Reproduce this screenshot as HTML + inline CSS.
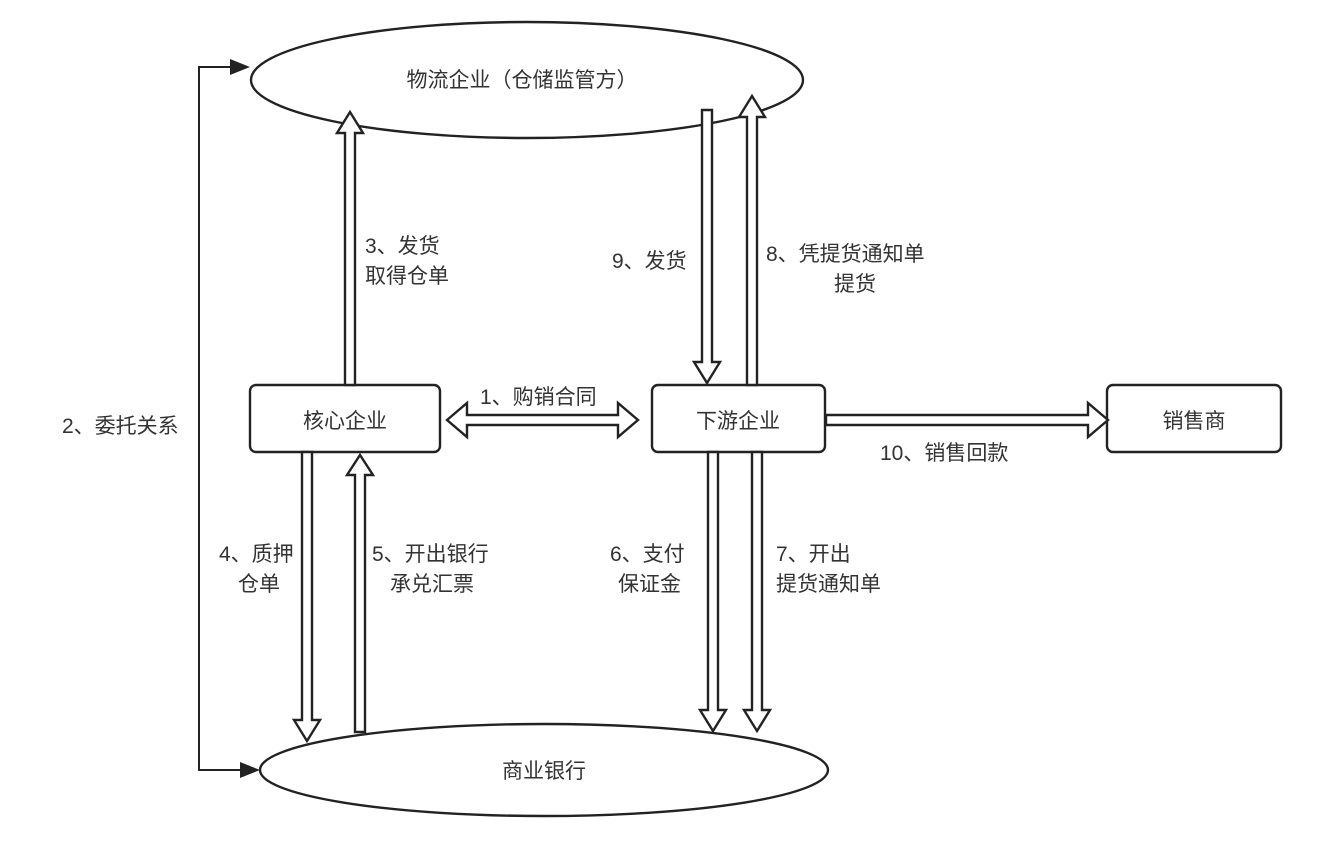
<!DOCTYPE html>
<html><head><meta charset="utf-8"><style>
body{margin:0;background:#fff;}
svg text{font-family:"Liberation Sans","Noto Sans CJK SC",sans-serif;font-size:21px;fill:#333;}
</style></head><body>
<svg width="1336" height="854" viewBox="0 0 1336 854" xmlns="http://www.w3.org/2000/svg">
<g fill="#fff" stroke="#222" stroke-width="2.4">
<ellipse cx="527" cy="80" rx="276" ry="58"/>
<ellipse cx="544" cy="770" rx="284" ry="46"/>
<rect x="250" y="385" width="190" height="67" rx="6"/>
<rect x="652" y="385" width="173" height="67" rx="6"/>
<rect x="1107" y="385" width="174" height="67" rx="6"/>
<polygon points="345,385 345,133 337,133 350,112 363,133 355,133 355,385"/>
<polygon points="702,110 702,362 694,362 707,383 720,362 712,362 712,110"/>
<polygon points="747,385 747,117 739,117 752,96 765,117 757,117 757,385"/>
<polygon points="302,452 302,720 294,720 307,741 320,720 312,720 312,452"/>
<polygon points="355,732 355,475 347,475 360,455 373,475 365,475 365,732"/>
<polygon points="708,452 708,710 700,710 713,731 726,710 718,710 718,452"/>
<polygon points="752,452 752,710 744,710 757,731 770,710 762,710 762,452"/>
<polygon points="447,420 467,403 467,415 618,415 618,403 638,420 618,437 618,425 467,425 467,437"/>
<polygon points="826,415 1088,415 1088,403 1108,420 1088,437 1088,425 826,425"/>
</g>
<polyline points="230,67 199,67 199,770 240,770" fill="none" stroke="#222" stroke-width="2"/>
<polygon points="230,59 250,67 230,75" fill="#222"/>
<polygon points="240,762 260,770 240,778" fill="#222"/>
<text x="522" y="87" text-anchor="middle">物流企业（仓储监管方）</text>
<text x="544" y="778" text-anchor="middle">商业银行</text>
<text x="345" y="428" text-anchor="middle">核心企业</text>
<text x="738" y="428" text-anchor="middle">下游企业</text>
<text x="1194" y="428" text-anchor="middle">销售商</text>
<text x="480" y="404">1、购销合同</text>
<text x="62" y="433">2、委托关系</text>
<text x="365" y="253">3、发货</text>
<text x="365" y="283">取得仓单</text>
<text x="612" y="268">9、发货</text>
<text x="766" y="261">8、凭提货通知单</text>
<text x="834" y="291">提货</text>
<text x="219" y="561">4、质押</text>
<text x="238" y="591">仓单</text>
<text x="372" y="561">5、开出银行</text>
<text x="390" y="591">承兑汇票</text>
<text x="610" y="561">6、支付</text>
<text x="618" y="591">保证金</text>
<text x="776" y="561">7、开出</text>
<text x="776" y="591">提货通知单</text>
<text x="880" y="460">10、销售回款</text>
</svg>
</body></html>
